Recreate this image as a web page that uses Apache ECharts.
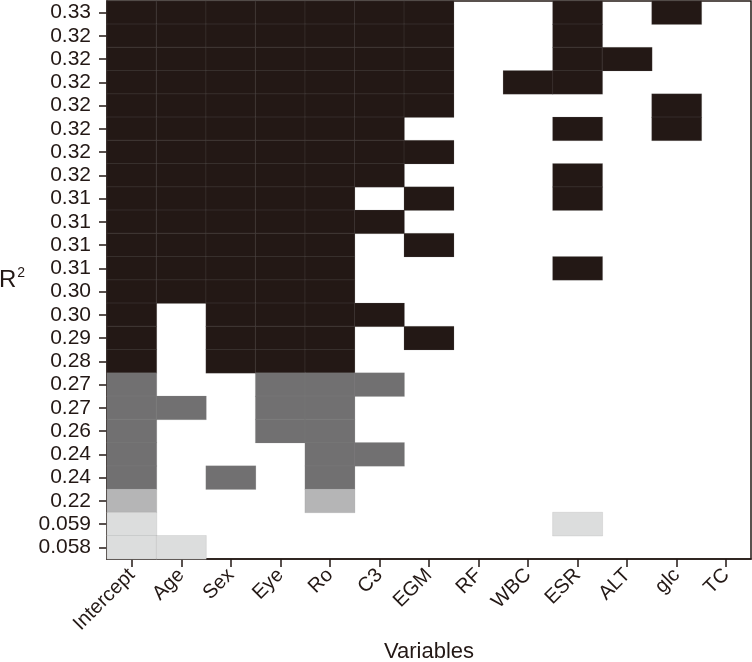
<!DOCTYPE html>
<html>
<head>
<meta charset="utf-8">
<script src="https://cdn.jsdelivr.net/npm/echarts@6/dist/echarts.min.js"></script>
<style>
  html, body { margin: 0; padding: 0; background: #fff; }
  #chart { width: 752px; height: 662px; }
</style>
</head>
<body>
<div id="chart"></div>
<script>
// candidate predictors, left to right
const variables = ['Intercept', 'Age', 'Sex', 'Eye', 'Ro', 'C3', 'EGM', 'RF', 'WBC', 'ESR', 'ALT', 'glc', 'TC'];

// models from top to bottom, with their R² label
const modelR2 = [
  '0.33', '0.32', '0.32', '0.32', '0.32', '0.32', '0.32', '0.32',
  '0.31', '0.31', '0.31', '0.31', '0.30', '0.30', '0.29', '0.28',
  '0.27', '0.27', '0.26', '0.24', '0.24', '0.22', '0.059', '0.058'
];

// shade level of each model row (4 = darkest)
const modelShade = [
  4, 4, 4, 4, 4, 4, 4, 4,
  4, 4, 4, 4, 4, 4, 4, 4,
  3, 3, 3, 3, 3, 2, 1, 1
];

// 1 = variable included in the model
const modelTerms = [
  [1, 1, 1, 1, 1, 1, 1, 0, 0, 1, 0, 1, 0],
  [1, 1, 1, 1, 1, 1, 1, 0, 0, 1, 0, 0, 0],
  [1, 1, 1, 1, 1, 1, 1, 0, 0, 1, 1, 0, 0],
  [1, 1, 1, 1, 1, 1, 1, 0, 1, 1, 0, 0, 0],
  [1, 1, 1, 1, 1, 1, 1, 0, 0, 0, 0, 1, 0],
  [1, 1, 1, 1, 1, 1, 0, 0, 0, 1, 0, 1, 0],
  [1, 1, 1, 1, 1, 1, 1, 0, 0, 0, 0, 0, 0],
  [1, 1, 1, 1, 1, 1, 0, 0, 0, 1, 0, 0, 0],
  [1, 1, 1, 1, 1, 0, 1, 0, 0, 1, 0, 0, 0],
  [1, 1, 1, 1, 1, 1, 0, 0, 0, 0, 0, 0, 0],
  [1, 1, 1, 1, 1, 0, 1, 0, 0, 0, 0, 0, 0],
  [1, 1, 1, 1, 1, 0, 0, 0, 0, 1, 0, 0, 0],
  [1, 1, 1, 1, 1, 0, 0, 0, 0, 0, 0, 0, 0],
  [1, 0, 1, 1, 1, 1, 0, 0, 0, 0, 0, 0, 0],
  [1, 0, 1, 1, 1, 0, 1, 0, 0, 0, 0, 0, 0],
  [1, 0, 1, 1, 1, 0, 0, 0, 0, 0, 0, 0, 0],
  [1, 0, 0, 1, 1, 1, 0, 0, 0, 0, 0, 0, 0],
  [1, 1, 0, 1, 1, 0, 0, 0, 0, 0, 0, 0, 0],
  [1, 0, 0, 1, 1, 0, 0, 0, 0, 0, 0, 0, 0],
  [1, 0, 0, 0, 1, 1, 0, 0, 0, 0, 0, 0, 0],
  [1, 0, 1, 0, 1, 0, 0, 0, 0, 0, 0, 0, 0],
  [1, 0, 0, 0, 1, 0, 0, 0, 0, 0, 0, 0, 0],
  [1, 0, 0, 0, 0, 0, 0, 0, 0, 1, 0, 0, 0],
  [1, 1, 0, 0, 0, 0, 0, 0, 0, 0, 0, 0, 0]
];

const shadeColors = ['#ffffff', '#dcdddd', '#b5b5b6', '#717071', '#231815'];
const ink = '#231815';
const font = '"Liberation Sans", Arial, sans-serif';

const cells = [];
modelTerms.forEach((row, y) => {
  row.forEach((used, x) => {
    if (!used) return;
    cells.push({
      value: [x, y, modelShade[y]],
      itemStyle: { color: shadeColors[modelShade[y]] }
    });
  });
});

const chart = echarts.init(document.getElementById('chart'), null, { renderer: 'canvas' });

chart.setOption({
  animation: false,
  backgroundColor: '#fff',
  grid: {
    left: 107,
    right: 1,
    top: 1,
    bottom: 103,
    outerBoundsMode: 'none',
    containLabel: false,
    show: true,
    borderColor: ink,
    borderWidth: 1.5,
    backgroundColor: '#fff'
  },
  xAxis: {
    type: 'category',
    data: variables,
    name: 'Variables',
    nameLocation: 'middle',
    nameGap: 79,
    nameTextStyle: { fontFamily: font, fontSize: 22, color: ink },
    axisLine: { show: true, lineStyle: { color: ink, width: 1.5 } },
    axisTick: { show: true, alignWithLabel: true, length: 8, lineStyle: { color: ink, width: 1.5 } },
    axisLabel: {
      rotate: 45,
      margin: 13,
      interval: 0,
      fontFamily: font,
      fontSize: 20,
      color: ink
    },
    splitLine: { show: false }
  },
  yAxis: {
    type: 'category',
    inverse: true,
    data: modelR2,
    name: 'R{sup|2}',
    nameLocation: 'middle',
    nameRotate: 0,
    nameGap: 82,
    nameTextStyle: {
      fontFamily: font,
      fontSize: 24,
      color: ink,
      rich: {
        sup: { fontFamily: font, fontSize: 14, color: ink, padding: [0, 0, 14, 1] }
      }
    },
    axisLine: { show: true, lineStyle: { color: ink, width: 1.5 } },
    axisTick: { show: true, alignWithLabel: true, length: 8, lineStyle: { color: ink, width: 1.5 } },
    axisLabel: {
      margin: 16,
      interval: 0,
      fontFamily: font,
      fontSize: 21,
      color: ink
    },
    splitLine: { show: false }
  },
  series: [
    {
      type: 'heatmap',
      data: cells,
      itemStyle: { borderColor: 'rgba(140,140,140,0.35)', borderWidth: 0.5 },
      emphasis: { disabled: true }
    }
  ]
});
</script>
</body>
</html>
